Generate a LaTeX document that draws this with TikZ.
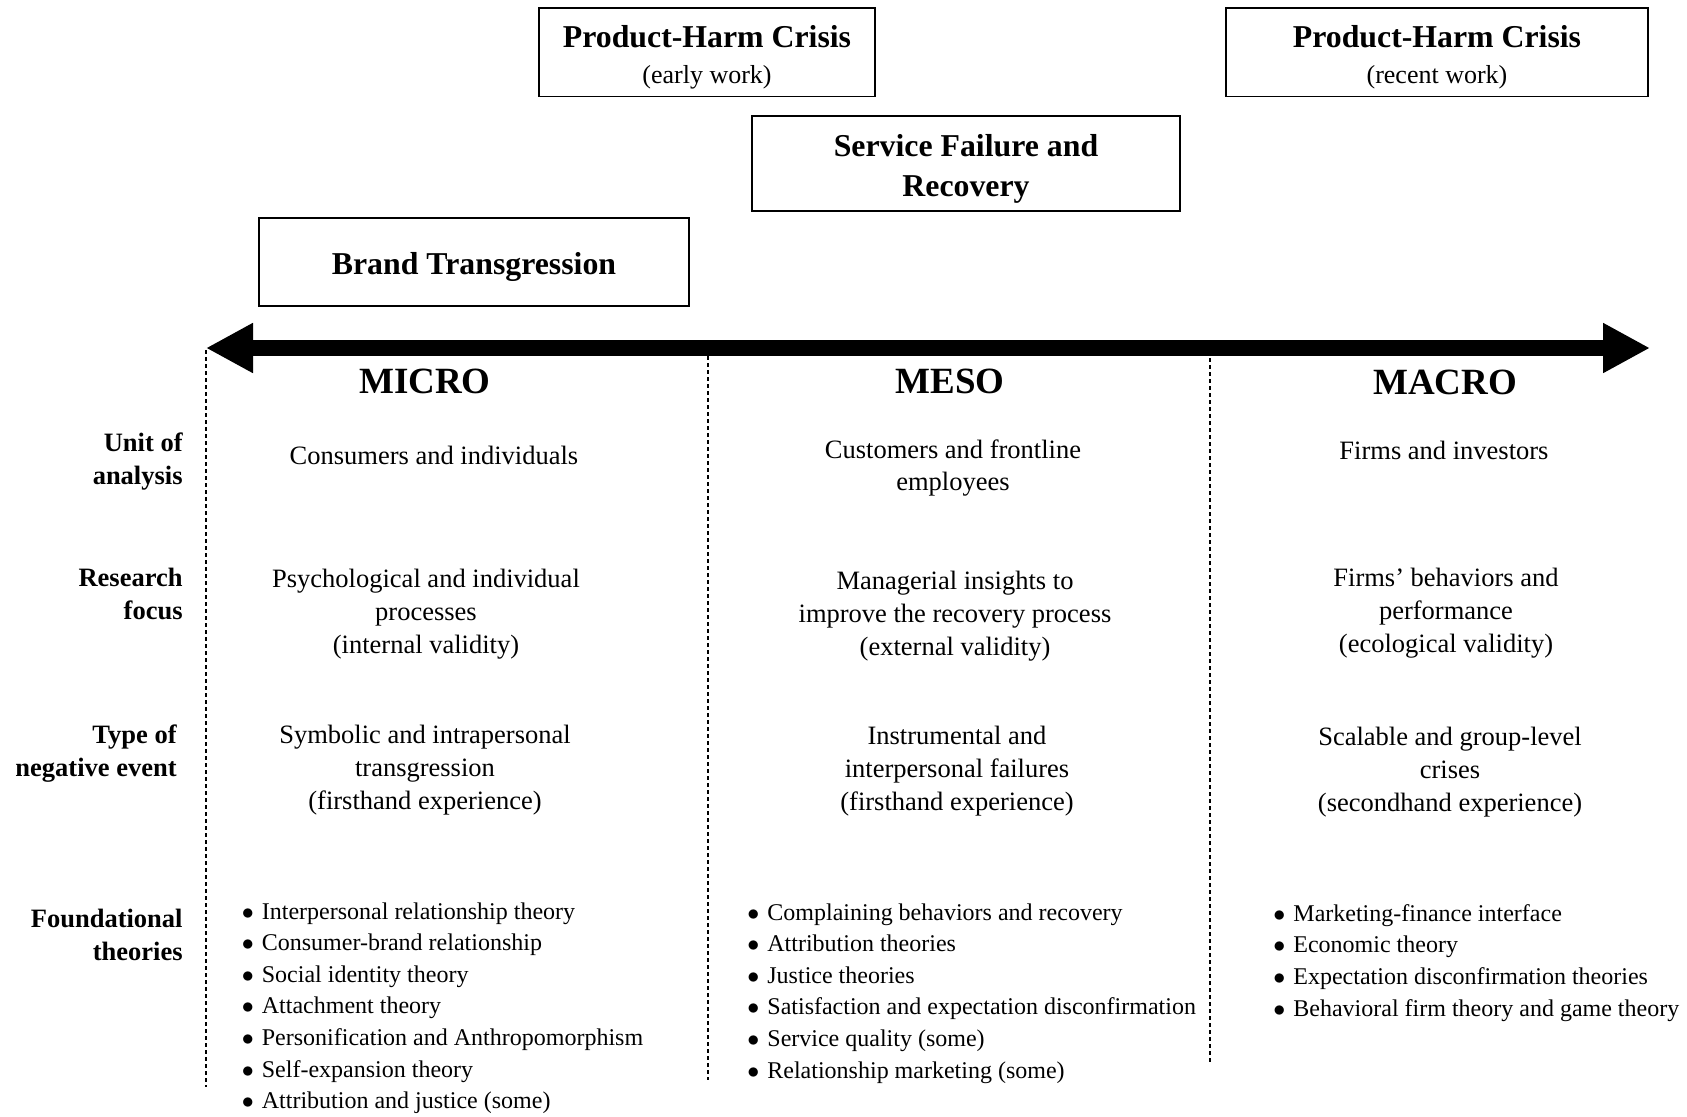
\documentclass[tikz,border=0pt]{standalone}
\usepackage{fontspec}
\setmainfont{Liberation Serif}
\usetikzlibrary{arrows.meta, positioning}
\newcommand{\itm}{\makebox[10pt][l]{$\bullet$}}
\newcommand{\topgap}{\rule{0pt}{16pt}}

\begin{document}
\begin{tikzpicture}[x=0.5pt, y=-0.5pt,
    topic/.style={draw, line width=0.75pt, align=center, inner sep=0pt,
        font=\fontsize{15.9}{18.2}\selectfont\bfseries},
    level/.style={font=\fontsize{18.5}{22}\selectfont\bfseries},
    rowlabel/.style={anchor=east, align=right, inner xsep=0pt, font=\fontsize{13.25}{16.5}\selectfont\bfseries},
    cell/.style={align=center, font=\fontsize{13.25}{16.4}\selectfont},
    theories/.style={anchor=north west, align=left, inner sep=0pt, font=\fontsize{12}{15.8}\selectfont},
    divider/.style={dash pattern=on 2pt off 1.5pt, line width=0.6pt}]
    \useasboundingbox (0,0) rectangle (1687,1116);

    % Research streams
    \node (phcEarly) [topic, minimum width=168pt, minimum height=44.25pt] at (707,52)
        {\topgap Product-Harm Crisis\\{\fontsize{13}{18.2}\selectfont\mdseries (early work)}};
    \node (phcRecent) [topic, minimum width=211pt, minimum height=44.25pt] at (1437,52)
        {\topgap Product-Harm Crisis\\{\fontsize{13}{18.2}\selectfont\mdseries (recent work)}};
    \node (service) [topic, font=\fontsize{15.9}{20}\selectfont\bfseries, minimum width=214pt, minimum height=47.5pt] at (966,163.5)
        {\topgap Service Failure and\\Recovery};
    \node (brand) [topic, minimum width=215pt, minimum height=44pt] at (474,262) {\topgap Brand Transgression};

    % Axis
    \coordinate (axisL) at (206,348);
    \coordinate (axisR) at (1650,348);
    \draw[line width=8pt, {Triangle[length=23.5pt,width=23.5pt]}-{Triangle[length=23.5pt,width=23.5pt]}] (axisL) -- (axisR);

    % Dividers
    \draw[divider] (206,350) -- (206,1087);
    \draw[divider] (708,356) -- (708,1080);
    \draw[divider] (1210,358) -- (1210,1065);

    % Levels
    \node (micro) [level] at (425,381) {MICRO};
    \node (meso) [level] at (950,381) {MESO};
    \node (macro) [level] at (1445,382) {MACRO};

    % Row labels
    \node (unit) [rowlabel] at (183,462) {Unit of\\analysis};
    \node (focus) [rowlabel] at (183,594) {Research\\focus};
    \node (event) [rowlabel] at (177,754) {Type of\\negative event};
    \node (found) [rowlabel] at (183,935) {Foundational\\theories};

    % Micro column
    \node (microUnit) [cell] at (434,455) {Consumers and individuals};
    \node (microFocus) [cell] at (426,614) {Psychological and individual\\processes\\(internal validity)};
    \node (microEvent) [cell] at (425,770) {Symbolic and intrapersonal\\transgression\\(firsthand experience)};
    \node (microTheo) [theories] at (241.5,902) {%
        \itm Interpersonal relationship theory\\
        \itm Consumer-brand relationship\\
        \itm Social identity theory\\
        \itm Attachment theory\\
        \itm Personification and Anthropomorphism\\
        \itm Self-expansion theory\\
        \itm Attribution and justice (some)};

    % Meso column
    \node (mesoUnit) [cell] at (953,468) {Customers and frontline\\employees};
    \node (mesoFocus) [cell] at (955,616) {Managerial insights to\\improve the recovery process\\(external validity)};
    \node (mesoEvent) [cell] at (957,771) {Instrumental and\\interpersonal failures\\(firsthand experience)};
    \node (mesoTheo) [theories] at (747,903) {%
        \itm Complaining behaviors and recovery\\
        \itm Attribution theories\\
        \itm Justice theories\\
        \itm Satisfaction and expectation disconfirmation\\
        \itm Service quality (some)\\
        \itm Relationship marketing (some)};

    % Macro column
    \node (macroUnit) [cell] at (1444,450) {Firms and investors};
    \node (macroFocus) [cell] at (1446,613) {Firms' behaviors and\\performance\\(ecological validity)};
    \node (macroEvent) [cell] at (1450,772) {Scalable and group-level\\crises\\(secondhand experience)};
    \node (macroTheo) [theories] at (1273,904) {%
        \itm Marketing-finance interface\\
        \itm Economic theory\\
        \itm Expectation disconfirmation theories\\
        \itm Behavioral firm theory and game theory};
\end{tikzpicture}
\end{document}
